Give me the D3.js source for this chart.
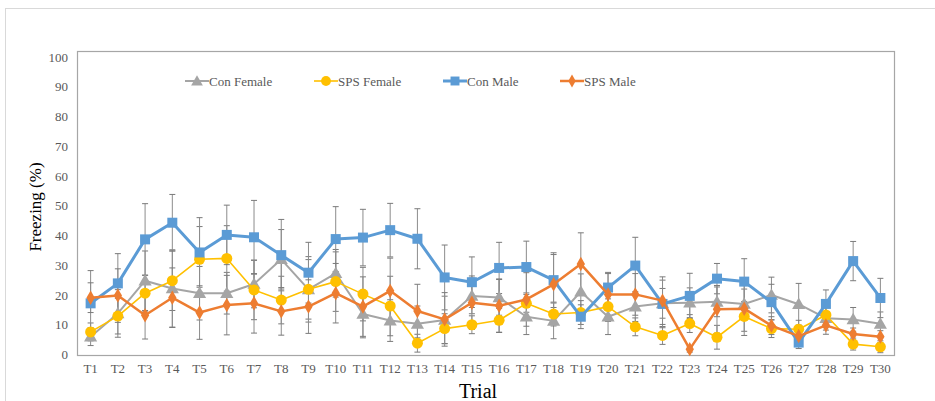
<!DOCTYPE html>
<html>
<head>
<meta charset="utf-8">
<script src="https://cdn.jsdelivr.net/npm/d3@7"></script>
<style>
  html, body { margin: 0; padding: 0; background: #fff; }
  svg { display: block; }
</style>
</head>
<body>
<svg id="chart" width="935" height="401"></svg>
<script>
const trials = d3.range(1, 31).map(i => "T" + i);
const yTicks = [0, 10, 20, 30, 40, 50, 60, 70, 80, 90, 100];

const seriesNames = ["Con Female", "SPS Female", "Con Male", "SPS Male"];

const conFemale = [6.0, 13.8, 24.8, 22.2, 20.6, 20.6, 23.7, 32.0, 21.9, 27.3,
                   13.6, 11.4, 10.3, 11.6, 19.7, 19.2, 12.7, 11.3, 21.1, 12.7,
                   16.1, 17.2, 17.4, 17.7, 17.0, 20.0, 16.9, 12.2, 11.8, 10.3];
const spsFemale = [7.6, 12.9, 20.6, 24.8, 32.0, 32.3, 21.7, 18.3, 21.9, 24.5,
                   20.3, 16.3, 3.8, 8.7, 10.0, 11.5, 17.2, 13.6, 14.1, 16.1,
                   9.3, 6.4, 10.4, 5.8, 12.8, 8.7, 8.5, 13.3, 3.5, 2.6];
const conMale   = [17.2, 23.9, 38.7, 44.3, 34.3, 40.2, 39.4, 33.4, 27.5, 38.8,
                   39.3, 41.8, 38.9, 25.9, 24.3, 29.1, 29.4, 25.0, 12.7, 22.5,
                   29.9, 17.0, 19.7, 25.5, 24.5, 17.6, 4.0, 17.0, 31.4, 19.0];
const spsMale   = [19.1, 19.8, 13.2, 19.1, 14.1, 16.6, 17.2, 14.5, 16.1, 20.6,
                   16.1, 21.4, 14.6, 11.8, 17.4, 16.4, 18.5, 23.6, 30.4, 20.2,
                   20.2, 18.1, 1.8, 15.2, 15.4, 9.7, 6.2, 9.8, 6.9, 6.0];

const conFemaleErr = [3, 8, 10, 13, 9, 7, 8, 10, 11, 8, 8, 7, 6, 8, 6, 6, 6, 6, 6, 6, 5, 5, 5, 5, 5, 6, 7, 4, 4, 4];
const spsFemaleErr = [3, 6, 6, 10, 11, 11, 10, 8, 10, 10, 9, 10, 3, 5, 3, 4, 3, 4, 4, 5, 3, 3, 3, 4, 5, 3, 3, 4, 2, 2];
const conMaleErr   = [11, 10, 12, 9.5, 11.7, 10, 12.4, 12, 10.2, 10.9, 9.5, 9, 10.1, 10.9, 8.5, 8.6, 8.7, 9.2, 4, 5.1, 9.5, 8, 7.6, 5.1, 7.7, 6, 2, 4.7, 6.6, 6.6];
const spsMaleErr   = [5, 9, 8, 10, 9, 10, 10, 8, 9, 10, 10, 11, 9, 9, 9, 9, 9, 10, 10.5, 7, 7, 8, 1, 8, 9, 3, 2, 3, 2, 2];

const colors = ["#A5A5A5", "#FFC000", "#5B9BD5", "#ED7D31"];
const lineWidths = [2, 1.6, 3, 2.5];
const symbols = [d3.symbolTriangle, d3.symbolCircle, d3.symbolSquare, d3.symbolDiamond];
const symSizes = [75, 95, 100, 60];

const series = [
  { name: seriesNames[0], values: conFemale, err: conFemaleErr },
  { name: seriesNames[1], values: spsFemale, err: spsFemaleErr },
  { name: seriesNames[2], values: conMale, err: conMaleErr },
  { name: seriesNames[3], values: spsMale, err: spsMaleErr }
];

const svg = d3.select("#chart");
const font = "'Liberation Serif', 'Times New Roman', serif";
const textColor = "#595959";

// outer chart border
svg.append("rect").attr("x", 5.5).attr("y", 8.5).attr("width", 950).attr("height", 420)
  .attr("fill", "none").attr("stroke", "#d9d9d9").attr("stroke-width", 1);

const plot = { left: 77, right: 894, top: 51, bottom: 355 };

const x = d3.scaleBand().domain(trials).range([plot.left, plot.right]);
const y = d3.scaleLinear().domain([0, 100]).range([354.5, 57]);

// plot frame
svg.append("rect").attr("x", plot.left + 0.5).attr("y", plot.top + 0.5)
  .attr("width", plot.right - plot.left).attr("height", plot.bottom - plot.top)
  .attr("fill", "none").attr("stroke", "#a6a6a6").attr("stroke-width", 1.2);

// y axis labels
const yAxis = d3.axisLeft(y).tickValues(yTicks).tickSize(0).tickPadding(9);
const yg = svg.append("g").attr("transform", `translate(${plot.left},0)`).call(yAxis);
yg.select(".domain").remove();
yg.selectAll("text").attr("font-family", font).attr("font-size", 13).attr("fill", textColor);

// x axis labels
const xAxis = d3.axisBottom(x).tickSize(0).tickPadding(9);
const xg = svg.append("g").attr("transform", `translate(0,${plot.bottom})`).call(xAxis);
xg.select(".domain").remove();
xg.selectAll("text").attr("font-family", font).attr("font-size", 13).attr("fill", textColor);

// axis titles
svg.append("text").attr("transform", "translate(41,207) rotate(-90)")
  .attr("text-anchor", "middle").attr("font-family", font).attr("font-size", 17)
  .attr("fill", "#000").text("Freezing (%)");
svg.append("text").attr("x", 478).attr("y", 398)
  .attr("text-anchor", "middle").attr("font-family", font).attr("font-size", 20)
  .attr("fill", "#000").text("Trial");

const cx = t => x(t) + x.bandwidth() / 2;

// error bars
series.forEach((s, si) => {
  const g = svg.append("g");
  s.values.forEach((v, i) => {
    const t = trials[i];
    const e = s.err[i];
    const px = cx(t);
    const y1 = y(Math.min(100, v + e)), y0 = y(Math.max(0, v - e));
    g.append("line").attr("x1", px).attr("x2", px).attr("y1", y1).attr("y2", y0)
      .attr("stroke", "#8c8c8c").attr("stroke-width", 1);
    [y1, y0].forEach(yy => g.append("line").attr("x1", px - 3).attr("x2", px + 3)
      .attr("y1", yy).attr("y2", yy).attr("stroke", "#7a7a7a").attr("stroke-width", 1));
  });
});

// lines and markers
series.forEach((s, si) => {
  const line = d3.line().x((d, i) => cx(trials[i])).y(d => y(d));
  svg.append("path").datum(s.values).attr("d", line)
    .attr("fill", "none").attr("stroke", colors[si]).attr("stroke-width", lineWidths[si])
    .attr("stroke-linejoin", "round");
  const sym = d3.symbol().type(symbols[si]).size(symSizes[si]);
  svg.append("g").selectAll("path").data(s.values).join("path")
    .attr("d", sym)
    .attr("transform", (d, i) => `translate(${cx(trials[i])},${y(d) + (si === 0 ? 1 : 0)})`)
    .attr("fill", colors[si]);
});

// legend
const legendX = [185, 314, 443, 560];
const legendY = 81;
series.forEach((s, si) => {
  const g = svg.append("g").attr("transform", `translate(${legendX[si]},${legendY})`);
  g.append("line").attr("x1", 0).attr("x2", 24).attr("y1", 0).attr("y2", 0)
    .attr("stroke", colors[si]).attr("stroke-width", lineWidths[si]);
  g.append("path").attr("d", d3.symbol().type(symbols[si]).size(symSizes[si] * 0.8)())
    .attr("transform", `translate(12,${si === 0 ? 1 : 0})`).attr("fill", colors[si]);
  g.append("text").attr("x", 24).attr("y", 0).attr("dy", "0.35em")
    .attr("font-family", font).attr("font-size", 13).attr("fill", textColor).text(s.name);
});
</script>
</body>
</html>
